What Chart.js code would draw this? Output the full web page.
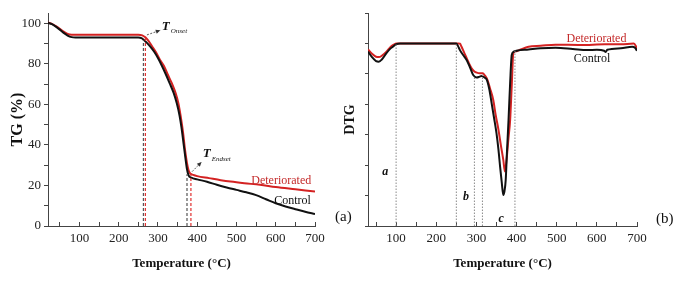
<!DOCTYPE html>
<html><head><meta charset="utf-8">
<script src="https://cdn.jsdelivr.net/npm/chart.js@4"></script>
<style>
html,body{margin:0;padding:0;background:#fff;width:684px;height:287px;overflow:hidden;}
#wrapA{position:absolute;left:0;top:0;width:342px;height:287px}
#wrapB{position:absolute;left:342px;top:0;width:342px;height:287px}
.plab{position:absolute;font-family:'Liberation Serif',serif;font-size:15px;line-height:15px;color:#111;white-space:nowrap}
</style></head><body>
<div id="wrapA"><canvas id="cA" width="342" height="287"></canvas></div>
<div id="wrapB"><canvas id="cB" width="342" height="287"></canvas></div>
<div class="plab" style="left:335px;top:209px">(a)</div>
<div class="plab" style="left:656px;top:211px">(b)</div>
<script>
// ---------- DATA ----------
// TG (%) vs temperature (°C)
const tgControlT = [20,30,40,50,60,70,80,90,150,200,250,258,265,272,280,290,300,310,320,330,340,348,355,360,365,370,374,378,385,400,425,450,475,500,525,550,575,600,625,650,675,700];
const tgControlV = [100.2,99.5,98.3,96.8,95.2,93.9,93.1,92.9,92.9,92.9,92.9,92.6,91.6,90.3,88.5,86.0,82.8,79.0,74.8,70.3,65.6,60.5,54.5,48.5,41.0,33.5,28.0,25.0,23.8,23.0,21.8,20.3,19.0,17.8,16.6,15.2,13.2,11.2,9.6,8.3,7.0,5.9];
const tgDetT = [20,30,40,50,60,70,80,150,250,260,268,275,285,295,305,315,325,335,345,352,358,364,369,374,378,382,390,400,430,460,485,520,560,600,650,700];
const tgDetV = [100.3,99.6,98.5,97.2,95.8,94.7,94.3,94.3,94.3,94.0,93.0,91.5,88.6,85.6,82.0,79.0,74.7,70.5,65.5,60.5,54.0,46.0,37.5,31.0,27.5,26.0,25.2,24.6,23.6,22.6,21.9,21.1,20.3,19.2,18.1,17.0];
// Onset / endset markers (temperature, height reached)
const markControlT = [263, 374];
const markControlTop = [91.6, 25.5];
const markDetT = [268, 384];
const markDetTop = [93.2, 26.0];

// DTG (arbitrary units) vs temperature (°C)
const dtgControlT = [30,40,50,57,65,76,85,93,101,110,250,254,259,267,276,285,292,301,308,313,320,326,332,338,344,350,355,359,363,367,370,373,376,380,384,388,392,400,430,460,497,540,576,600,618,622,626,660,688,695,700];
const dtgControlV = [5.73,5.55,5.42,5.40,5.48,5.68,5.82,5.90,5.98,6.0,6.0,5.92,5.78,5.62,5.45,5.18,4.96,4.88,4.91,4.93,4.88,4.80,4.50,4.03,3.55,3.05,2.50,1.95,1.45,1.02,1.15,1.51,2.40,3.48,4.70,5.62,5.72,5.76,5.80,5.84,5.86,5.82,5.78,5.79,5.76,5.72,5.79,5.84,5.89,5.86,5.76];
const dtgDetT = [30,40,50,57,65,76,85,93,101,255,259,263,270,276,282,288,295,301,308,316,321,326,334,342,348,355,361,367,371,375,380,384,388,392,398,405,430,460,497,560,620,660,692,697,700];
const dtgDetV = [5.80,5.66,5.56,5.55,5.60,5.73,5.87,5.95,6.0,6.0,5.99,5.89,5.68,5.51,5.33,5.18,5.08,5.04,5.02,5.02,4.95,4.85,4.52,4.14,3.65,3.16,2.65,2.17,1.79,2.17,2.90,3.48,4.60,5.68,5.74,5.77,5.89,5.92,5.96,5.95,5.97,5.97,6.00,5.92,5.82];
// Stage boundaries on the DTG plot
const dtgMarkT = [100, 250, 295, 315, 396];
const dtgMarkTop = [6.0, 6.0, 4.9, 5.02, 5.78];

// Ticks
const xTicksLeft = [50,100,150,200,250,300,350,400,450,500,550,600,650,700];
const xTicksRight = [50,100,150,200,250,300,350,400,450,500,550,600,650,700];
const xTickLabels = [100,200,300,400,500,600,700];
const yTicksTG = [0,10,20,30,40,50,60,70,80,90,100];
const yTickLabelsTG = [0,20,40,60,80,100];
const yTicksDTG = [0,0.5,1,1.5,2,2.5,3,3.5,4,4.5,5,5.5,6,6.5,7];

// ---------- STYLE ----------
Chart.defaults.font.family = "'Liberation Serif', 'Times New Roman', serif";
Chart.defaults.color = '#222';
const RED = '#d42222';
const BLACK = '#111111';
const AXIS = '#444444';

const zip = (xs, ys) => xs.map((x, i) => ({x: x, y: ys[i]}));
const vline = (t, top) => [{x: t, y: 0}, {x: t, y: top}];

const annot = {
  id: 'annot',
  afterDatasetsDraw(chart, args, opts) {
    const ctx = chart.ctx, xs = chart.scales.x, ys = chart.scales.y;
    const px = v => xs.getPixelForValue(v), py = v => ys.getPixelForValue(v);
    ctx.save();
    (opts.arrows || []).forEach(a => {
      const x1 = px(a.x1), y1 = py(a.y1), x2 = px(a.x2), y2 = py(a.y2);
      ctx.strokeStyle = '#333'; ctx.fillStyle = '#333'; ctx.lineWidth = 0.8;
      ctx.setLineDash([2, 1.5]);
      ctx.beginPath(); ctx.moveTo(x1, y1); ctx.lineTo(x2, y2); ctx.stroke();
      ctx.setLineDash([]);
      const ang = Math.atan2(y2 - y1, x2 - x1);
      ctx.beginPath(); ctx.moveTo(x2, y2);
      ctx.lineTo(x2 - 5 * Math.cos(ang - 0.45), y2 - 5 * Math.sin(ang - 0.45));
      ctx.lineTo(x2 - 5 * Math.cos(ang + 0.45), y2 - 5 * Math.sin(ang + 0.45));
      ctx.closePath(); ctx.fill();
    });
    (opts.texts || []).forEach(t => {
      ctx.font = t.font; ctx.fillStyle = t.color; ctx.textAlign = 'center'; ctx.textBaseline = 'middle';
      ctx.fillText(t.text, px(t.x), py(t.y));
    });
    (opts.tlabels || []).forEach(l => {
      const x = px(l.x), y = py(l.y);
      ctx.fillStyle = '#111'; ctx.textAlign = 'left'; ctx.textBaseline = 'middle';
      ctx.font = "italic bold 13px 'Liberation Serif'";
      ctx.fillText('T', x, y);
      const w = ctx.measureText('T').width;
      ctx.font = "italic 7px 'Liberation Serif'";
      ctx.fillText(l.sub, x + w + 1, y + 5);
    });
    ctx.restore();
  }
};

function xScale(min, ticks) {
  return {
    type: 'linear', min: min, max: 700,
    afterBuildTicks: s => { s.ticks = ticks.map(v => ({value: v})); },
    afterFit: s => { s.height = 61; },
    ticks: {autoSkip: false, maxRotation: 0, padding: 9, color: '#222', font: {size: 13},
      callback: v => xTickLabels.includes(v) ? String(v) : ''},
    grid: {drawOnChartArea: false, drawTicks: true, tickLength: -4, tickColor: AXIS},
    border: {color: AXIS, width: 1},
    title: {display: true, text: 'Temperature (°C)', color: '#111', font: {size: 13, weight: 'bold'}, padding: {top: 0, bottom: 16}}
  };
}

const lineDs = (label, data, color, w) => ({label, data, borderColor: color, backgroundColor: color, borderWidth: w, pointRadius: 0, showLine: true, cubicInterpolationMode: 'monotone', fill: false});
const dashDs = (data, color, dash, w) => ({data, borderColor: color, borderWidth: w, borderDash: dash, pointRadius: 0, showLine: true, fill: false});

// ---------- LEFT: TG ----------
const leftDatasets = [];
markControlT.forEach((t, i) => leftDatasets.push(dashDs(vline(t, markControlTop[i]), '#555', [3, 2], 1.2)));
markDetT.forEach((t, i) => leftDatasets.push(dashDs(vline(t, markDetTop[i]), '#e03030', [3, 2], 1.2)));
leftDatasets.push(lineDs('Control', zip(tgControlT, tgControlV), BLACK, 2));
leftDatasets.push(lineDs('Deteriorated', zip(tgDetT, tgDetV), RED, 2));

new Chart(document.getElementById('cA'), {
  type: 'scatter',
  data: {datasets: leftDatasets},
  plugins: [annot],
  options: {
    responsive: false, animation: false, events: [],
    layout: {padding: {left: 0, right: 27, top: 13, bottom: 0}},
    plugins: {legend: {display: false}, tooltip: {enabled: false},
      annot: {
        texts: [
          {text: 'Deteriorated', x: 614, y: 22.3, color: '#c42a2a', font: "12px 'Liberation Serif'"},
          {text: 'Control', x: 643, y: 12.6, color: '#111', font: "12px 'Liberation Serif'"}
        ],
        tlabels: [{x: 310, y: 98.3, sub: 'Onset'}, {x: 414, y: 35.6, sub: 'Endset'}],
        arrows: [{x1: 272, y1: 94.2, x2: 306, y2: 96.5}, {x1: 387, y1: 26.8, x2: 411, y2: 31.5}]
      }
    },
    scales: {
      x: xScale(20, xTicksLeft),
      y: {
        type: 'linear', min: 0, max: 105,
        afterBuildTicks: s => { s.ticks = yTicksTG.map(v => ({value: v})); },
        afterFit: s => { s.width = 48; },
        ticks: {padding: 3, color: '#222', font: {size: 13}, callback: v => yTickLabelsTG.includes(v) ? String(v) : ''},
        grid: {drawOnChartArea: false, drawTicks: true, tickLength: 4, tickColor: AXIS},
        border: {color: AXIS, width: 1},
        title: {display: true, text: 'TG (%)', color: '#111', font: {size: 16, weight: 'bold'}, padding: {top: 8, bottom: 0}}
      }
    }
  }
});

// ---------- RIGHT: DTG ----------
const rightDatasets = [];
dtgMarkT.forEach((t, i) => rightDatasets.push(dashDs(vline(t, dtgMarkTop[i]), '#8a8a8a', [1.5, 1.5], 1)));
rightDatasets.push(lineDs('Control', zip(dtgControlT, dtgControlV), BLACK, 2));
rightDatasets.push(lineDs('Deteriorated', zip(dtgDetT, dtgDetV), RED, 2));

new Chart(document.getElementById('cB'), {
  type: 'scatter',
  data: {datasets: rightDatasets},
  plugins: [annot],
  options: {
    responsive: false, animation: false, events: [],
    layout: {padding: {left: 0, right: 47, top: 13, bottom: 0}},
    plugins: {legend: {display: false}, tooltip: {enabled: false},
      annot: {
        texts: [
          {text: 'Deteriorated', x: 599, y: 6.15, color: '#c42a2a', font: "12px 'Liberation Serif'"},
          {text: 'Control', x: 588, y: 5.49, color: '#111', font: "12px 'Liberation Serif'"},
          {text: 'a', x: 73, y: 1.78, color: '#111', font: "italic bold 12px 'Liberation Serif'"},
          {text: 'b', x: 274, y: 0.96, color: '#111', font: "italic bold 12px 'Liberation Serif'"},
          {text: 'c', x: 361.5, y: 0.24, color: '#111', font: "italic bold 12px 'Liberation Serif'"}
        ]
      }
    },
    scales: {
      x: xScale(30, xTicksRight),
      y: {
        type: 'linear', min: 0, max: 7,
        afterBuildTicks: s => { s.ticks = yTicksDTG.map(v => ({value: v})); },
        afterFit: s => { s.width = 26; },
        ticks: {padding: 0, callback: () => ''},
        grid: {drawOnChartArea: false, drawTicks: true, tickLength: 3, tickColor: AXIS},
        border: {color: AXIS, width: 1},
        title: {display: true, text: 'DTG', color: '#111', font: {size: 14, weight: 'bold'}, padding: {top: 0, bottom: 0}}
      }
    }
  }
});
</script>
</body></html>
